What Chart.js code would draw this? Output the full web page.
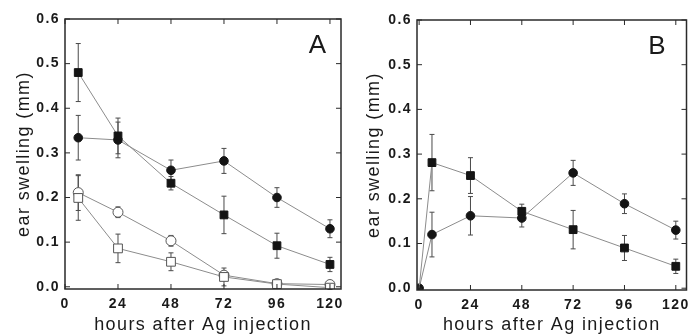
<!DOCTYPE html>
<html>
<head>
<meta charset="utf-8">
<script src="https://cdn.jsdelivr.net/npm/chart.js@4"></script>
<style>
  html, body { margin: 0; padding: 0; background: #fff; }
  #wrap { position: relative; width: 693px; height: 334px; overflow: hidden; }
  .panel { position: absolute; top: 0; height: 334px; }
  #panelA { left: 0; width: 350px; }
  #panelB { left: 350px; width: 343px; }
</style>
</head>
<body>
<div id="wrap">
  <div class="panel" id="panelA"><canvas id="chartA"></canvas></div>
  <div class="panel" id="panelB"><canvas id="chartB"></canvas></div>
</div>
<script>
const xTicks = [0, 24, 48, 72, 96, 120]
const yTicks = [0, 0.1, 0.2, 0.3, 0.4, 0.5, 0.6]

// panel A
const hoursA = [6, 24, 48, 72, 96, 120]
const filledSquareA = [0.480, 0.338, 0.232, 0.161, 0.092, 0.050]
const filledSquareErrA = [0.065, 0.040, 0.015, 0.042, 0.028, 0.016]
const filledCircleA = [0.334, 0.329, 0.261, 0.282, 0.200, 0.130]
const filledCircleErrA = [0.050, 0.040, 0.023, 0.028, 0.022, 0.020]
const openCircleA = [0.211, 0.167, 0.103, 0.026, 0.007, 0.005]
const openCircleErrA = [0.040, 0.012, 0.012, 0.008, 0.005, 0.004]
const openSquareA = [0.199, 0.086, 0.056, 0.022, 0.006, -0.002]
const openSquareErrA = [0.050, 0.032, 0.020, 0.020, 0.004, 0.004]

// panel B
const hoursB = [0, 6, 24, 48, 72, 96, 120]
const filledSquareB = [0, 0.281, 0.252, 0.172, 0.131, 0.090, 0.049]
const filledSquareErrB = [0, 0.063, 0.040, 0.016, 0.043, 0.028, 0.016]
const filledCircleB = [0, 0.120, 0.162, 0.157, 0.258, 0.189, 0.130]
const filledCircleErrB = [0, 0.050, 0.043, 0.020, 0.028, 0.022, 0.020]

const FONT = '"Liberation Sans", Arial, sans-serif'
const INK = '#1a1a1a'
const LINE = '#8c8c8c'

const pts = (xs, ys) => xs.map((x, i) => ({ x, y: ys[i] }))

function series(xs, ys, errs, style, open) {
  let r = style === 'rect' ? 5.5 : 4.3
  if (open) r = style === 'rect' ? 6.2 : 5
  return {
    data: pts(xs, ys),
    errors: errs,
    borderColor: LINE,
    borderWidth: 1,
    pointStyle: style,
    pointRadius: r,
    pointBackgroundColor: open ? '#fff' : '#141414',
    pointBorderColor: open ? '#555' : '#141414',
    pointBorderWidth: 1,
    tension: 0,
  }
}

const errorBars = {
  id: 'errorBars',
  beforeDatasetsDraw(chart) {
    const { ctx, scales: { x, y } } = chart
    ctx.save()
    ctx.strokeStyle = '#4a4a4a'
    ctx.lineWidth = 1
    chart.data.datasets.forEach((ds) => {
      if (!ds.errors) return
      ds.data.forEach((p, i) => {
        const e = ds.errors[i]
        if (!e) return
        const px = x.getPixelForValue(p.x)
        const top = y.getPixelForValue(p.y + e)
        const bot = y.getPixelForValue(p.y - e)
        ctx.beginPath()
        ctx.moveTo(px, top)
        ctx.lineTo(px, bot)
        ctx.moveTo(px - 2.5, top)
        ctx.lineTo(px + 2.5, top)
        ctx.moveTo(px - 2.5, bot)
        ctx.lineTo(px + 2.5, bot)
        ctx.stroke()
      })
    })
    ctx.restore()
  },
}

const frame = {
  id: 'frame',
  beforeDraw(chart) {
    chart.ctx.letterSpacing = '1.4px'
  },
  afterDraw(chart, args, opts) {
    const { ctx, chartArea: a, scales: { x, y } } = chart
    ctx.save()
    ctx.strokeStyle = '#2a2a2a'
    ctx.lineWidth = 1.5
    ctx.strokeRect(a.left, a.top, a.right - a.left, a.bottom - a.top)
    ctx.lineWidth = 1
    ctx.beginPath()
    xTicks.forEach((v) => {
      const px = x.getPixelForValue(v)
      ctx.moveTo(px, a.bottom)
      ctx.lineTo(px, a.bottom - 5)
      ctx.moveTo(px, a.top)
      ctx.lineTo(px, a.top + 5)
    })
    yTicks.forEach((v) => {
      const py = y.getPixelForValue(v)
      ctx.moveTo(a.left, py)
      ctx.lineTo(a.left + 5, py)
      ctx.moveTo(a.right, py)
      ctx.lineTo(a.right - 5, py)
    })
    ctx.stroke()
    ctx.font = '26px ' + FONT
    ctx.fillStyle = INK
    ctx.textAlign = 'center'
    ctx.textBaseline = 'middle'
    ctx.fillText(opts.letter, a.right - opts.letterDx, a.top + 27)
    ctx.restore()
  },
}

function makeChart(id, datasets, o) {
  return new Chart(document.getElementById(id), {
    type: 'line',
    data: { datasets },
    plugins: [errorBars, frame],
    options: {
      responsive: true,
      maintainAspectRatio: false,
      animation: false,
      layout: { padding: { top: o.top, right: o.right, left: 0, bottom: 0 } },
      plugins: {
        legend: { display: false },
        tooltip: { enabled: false },
        frame: { letter: o.letter, letterDx: o.letterDx },
      },
      scales: {
        x: {
          type: 'linear',
          min: o.xMin,
          max: 125,
          afterBuildTicks: (s) => { s.ticks = xTicks.map((v) => ({ value: v })) },
          afterFit: (s) => { s.height = o.xHeight; s.paddingLeft = 0; s.paddingRight = 0 },
          grid: { display: false, drawTicks: false },
          border: { display: false },
          ticks: { padding: 7, color: INK, font: { family: FONT, size: 14, weight: 'bold' } },
          title: {
            display: true,
            text: 'hours after Ag injection',
            color: INK,
            font: { family: FONT, size: 18, lineHeight: 1 },
            padding: { top: 0, bottom: 0 },
          },
        },
        y: {
          min: o.yMin,
          max: 0.6,
          afterBuildTicks: (s) => { s.ticks = yTicks.map((v) => ({ value: v })) },
          afterFit: (s) => { s.width = o.yWidth; s.paddingTop = 0; s.paddingBottom = 0 },
          grid: { display: false, drawTicks: false },
          border: { display: false },
          ticks: {
            padding: 5,
            color: INK,
            font: { family: FONT, size: 14, weight: 'bold' },
            callback: (v) => v.toFixed(1),
          },
          title: {
            display: true,
            text: 'ear swelling (mm)',
            color: INK,
            font: { family: FONT, size: 18, lineHeight: 1.2 },
            padding: { top: 13, bottom: 0 },
          },
        },
      },
    },
  })
}

makeChart('chartA', [
  series(hoursA, openSquareA, openSquareErrA, 'rect', true),
  series(hoursA, openCircleA, openCircleErrA, 'circle', true),
  series(hoursA, filledSquareA, filledSquareErrA, 'rect', false),
  series(hoursA, filledCircleA, filledCircleErrA, 'circle', false),
], { top: 19, right: 9, xHeight: 45, yWidth: 65, xMin: 0, yMin: -0.005, letter: 'A', letterDx: 23 })

const sqB = series(hoursB, filledSquareB, filledSquareErrB, 'rect', false)
sqB.pointRadius = (c) => (c.dataIndex === 0 ? 0 : 5.5)
makeChart('chartB', [
  sqB,
  series(hoursB, filledCircleB, filledCircleErrB, 'circle', false),
], { top: 20, right: 0, xHeight: 44, yWidth: 67, xMin: -1, yMin: -0.004, letter: 'B', letterDx: 29 })
</script>
</body>
</html>
